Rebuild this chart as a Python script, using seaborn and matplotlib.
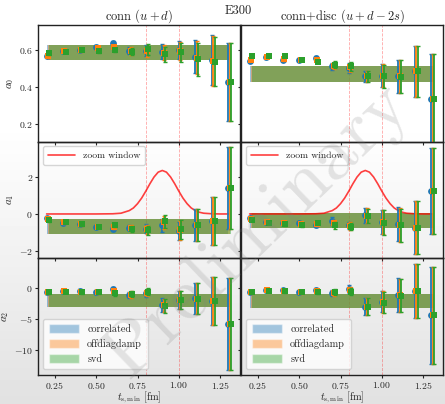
import numpy as np
import pandas as pd
import matplotlib
matplotlib.use("Agg")
import matplotlib.pyplot as plt
from matplotlib.patches import Patch
import seaborn as sns

sns.set_style("ticks")
plt.rcParams["font.family"] = ["cmr10", "DejaVu Serif"]
plt.rcParams["mathtext.fontset"] = "cm"
plt.rcParams["axes.formatter.use_mathtext"] = True
plt.rcParams["axes.unicode_minus"] = True

# ---------------- data ----------------
tmin = [0.2, 0.3, 0.4, 0.5, 0.6, 0.7, 0.8, 0.9, 1.0, 1.1, 1.2, 1.3]
methods = ["correlated", "offdiagdamp", "svd"]

a0_conn_corr = [0.568, 0.596, 0.600, 0.618, 0.636, 0.596, 0.596, 0.591, 0.600, 0.564, 0.546, 0.425]
a0_conn_off = [0.565, 0.593, 0.598, 0.609, 0.618, 0.594, 0.594, 0.585, 0.594, 0.557, 0.541, 0.425]
a0_conn_svd = [0.582, 0.591, 0.600, 0.596, 0.600, 0.591, 0.604, 0.577, 0.587, 0.550, 0.537, 0.425]
a0_conn_err = [0.008, 0.008, 0.008, 0.010, 0.010, 0.020, 0.030, 0.040, 0.050, 0.090, 0.135, 0.210]

a0_disc_corr = [0.541, 0.561, 0.546, 0.546, 0.555, 0.511, 0.502, 0.457, 0.461, 0.457, 0.484, 0.336]
a0_disc_off = [0.548, 0.563, 0.550, 0.546, 0.548, 0.515, 0.505, 0.457, 0.460, 0.456, 0.484, 0.336]
a0_disc_svd = [0.568, 0.568, 0.568, 0.546, 0.537, 0.520, 0.511, 0.457, 0.457, 0.454, 0.484, 0.336]
a0_disc_err = [0.008, 0.008, 0.008, 0.008, 0.010, 0.020, 0.025, 0.030, 0.063, 0.090, 0.140, 0.240]

a1_conn_corr = [-0.23, -0.46, -0.55, -0.68, -0.79, -0.73, -0.79, -0.61, -0.91, -0.61, -0.38, 1.41]
a1_conn_off = [-0.28, -0.45, -0.55, -0.68, -0.68, -0.76, -0.83, -0.45, -0.87, -0.61, -0.38, 1.41]
a1_conn_svd = [-0.34, -0.43, -0.55, -0.68, -0.61, -0.79, -0.88, -0.38, -0.82, -0.61, -0.38, 1.41]
a1_conn_err = [0.07, 0.07, 0.07, 0.08, 0.10, 0.15, 0.25, 0.35, 0.50, 0.85, 1.30, 2.20]

a1_disc_corr = [-0.20, -0.43, -0.46, -0.46, -0.61, -0.38, -0.61, -0.07, -0.43, -0.55, -0.73, 1.23]
a1_disc_off = [-0.26, -0.44, -0.50, -0.53, -0.54, -0.50, -0.64, -0.09, -0.44, -0.58, -0.73, 1.23]
a1_disc_svd = [-0.32, -0.46, -0.55, -0.61, -0.46, -0.61, -0.68, -0.11, -0.46, -0.61, -0.73, 1.23]
a1_disc_err = [0.07, 0.07, 0.07, 0.08, 0.10, 0.20, 0.20, 0.40, 0.65, 0.90, 1.43, 2.30]

a2_conn_corr = [-0.74, -0.48, -0.53, -0.74, -0.21, -1.17, -0.90, -2.77, -1.97, -1.70, -2.13, -5.85]
a2_conn_off = [-0.74, -0.56, -0.63, -0.74, -0.55, -1.10, -0.80, -2.85, -1.97, -1.75, -2.13, -5.85]
a2_conn_svd = [-0.74, -0.64, -0.74, -0.74, -0.90, -1.06, -0.64, -2.93, -1.97, -1.81, -2.13, -5.85]
a2_conn_err = [0.25, 0.25, 0.25, 0.25, 0.35, 0.50, 0.60, 1.10, 1.50, 2.50, 3.90, 7.40]

a2_disc_corr = [-0.74, -0.37, -0.37, -0.74, -0.37, -0.90, -0.21, -3.03, -2.23, -1.17, -0.53, -4.47]
a2_disc_off = [-0.70, -0.42, -0.45, -0.70, -0.50, -0.82, -0.42, -3.03, -2.30, -1.22, -0.53, -4.47]
a2_disc_svd = [-0.64, -0.48, -0.53, -0.64, -0.64, -0.74, -0.64, -3.03, -2.39, -1.28, -0.53, -4.47]
a2_disc_err = [0.25, 0.25, 0.25, 0.25, 0.35, 0.50, 0.60, 1.30, 1.70, 2.70, 4.40, 7.90]

# fit bands (lower, upper)
band_a0_conn = (0.546, 0.627)
band_a0_disc = (0.425, 0.514)
band_a1_conn = (-1.05, -0.29)
band_a1_disc = (-0.73, 0.07)
band_a2_conn = (-3.03, -1.06)
band_a2_disc = (-3.19, -1.06)

# zoom window curve
zoom_x = [0.2, 0.4, 0.5, 0.6, 0.65, 0.7, 0.725, 0.75, 0.775, 0.8, 0.825, 0.85, 0.875, 0.9,
          0.925, 0.95, 0.975, 1.0, 1.025, 1.05, 1.075, 1.1, 1.125, 1.15, 1.2, 1.25, 1.3]
zoom_y = [0.0, 0.0, 0.0, 0.01, 0.04, 0.18, 0.32, 0.55, 0.85, 1.22, 1.62, 1.98, 2.24, 2.33,
          2.24, 1.98, 1.62, 1.22, 0.85, 0.55, 0.32, 0.18, 0.09, 0.04, 0.01, 0.0, 0.0]

titles = [r"conn $(u+d)$", r"conn+disc $(u+d-2s)$"]
ylabels = [r"$a_0$", r"$a_1$", r"$a_2$"]
vlines = [0.8, 1.0]

panels = {
    (0, 0): ([a0_conn_corr, a0_conn_off, a0_conn_svd], a0_conn_err, band_a0_conn),
    (0, 1): ([a0_disc_corr, a0_disc_off, a0_disc_svd], a0_disc_err, band_a0_disc),
    (1, 0): ([a1_conn_corr, a1_conn_off, a1_conn_svd], a1_conn_err, band_a1_conn),
    (1, 1): ([a1_disc_corr, a1_disc_off, a1_disc_svd], a1_disc_err, band_a1_disc),
    (2, 0): ([a2_conn_corr, a2_conn_off, a2_conn_svd], a2_conn_err, band_a2_conn),
    (2, 1): ([a2_disc_corr, a2_disc_off, a2_disc_svd], a2_disc_err, band_a2_disc),
}

colors = ["tab:blue", "tab:orange", "tab:green"]
markers = ["o", "s", "s"]
offsets = [0.0, 0.008, 0.016]

# ---------------- figure ----------------
fig = plt.figure(figsize=(4.45, 4.04), dpi=100)
bg = fig.add_axes([0, 0, 1, 1], zorder=-10)
grad = np.concatenate([np.ones(30), np.linspace(1.0, 0.885, 70)])[:, None]
bg.imshow(grad, aspect="auto", cmap="gray", vmin=0, vmax=1, extent=[0, 1, 0, 1],
          origin="upper")
bg.axis("off")

axes = fig.subplots(3, 2, sharex=True, sharey="row")
fig.subplots_adjust(left=0.0854, right=0.9955, top=0.938, bottom=0.073,
                    wspace=0.005, hspace=0.0)

for (r, c), (series, err, band) in panels.items():
    ax = axes[r, c]
    ax.set_facecolor("none")
    for i, (vals, col, mk, off) in enumerate(zip(series, colors, markers, offsets)):
        xs = np.array(tmin) + off
        ax.fill_between([xs[0], xs[-1]], band[0], band[1], color=col, alpha=0.45,
                        lw=0, zorder=1)
        ax.errorbar(xs, vals, yerr=err, fmt="none", ecolor=col, elinewidth=1.3,
                    capsize=1.6, capthick=1.0, zorder=3 + 2 * i)
        sns.scatterplot(x=xs, y=vals, color=col, marker=mk, s=24, linewidth=0,
                        ax=ax, zorder=4 + 2 * i, legend=False)
    for v in vlines:
        ax.axvline(v, color="red", ls="--", lw=0.6, alpha=0.35, zorder=0)
    if r == 1:
        sns.lineplot(x=zoom_x, y=zoom_y, color="red", alpha=0.75, lw=1.2,
                     label="zoom window", ax=ax, zorder=2)
        ax.legend(loc="upper left", fontsize=7, handlelength=2.8,
                  borderpad=0.5, framealpha=0.8)
    if r == 2:
        handles = [Patch(facecolor=col, alpha=0.4, label=m) for col, m in zip(colors, methods)]
        ax.legend(handles=handles, loc="lower left", fontsize=7.3, handlelength=3.0,
                  handleheight=0.9, borderpad=0.55, labelspacing=0.5, framealpha=0.8)
        ax.set_xlabel(r"$t_{\rm s,min}$ [fm]", fontsize=7.5, labelpad=-0.5)
    if c == 0:
        ax.set_ylabel(ylabels[r], fontsize=8, labelpad=2)
    else:
        ax.set_ylabel("")
    if r == 0:
        ax.set_title(titles[c], fontsize=9, pad=4)
    ax.tick_params(labelsize=7, length=2.5, width=0.8, pad=1.2)
    for s in ax.spines.values():
        s.set_linewidth(1.0)
        s.set_color("#222222")

axes[0, 0].set_xlim(0.148, 1.37)
axes[0, 0].set_xticks([0.25, 0.5, 0.75, 1.0, 1.25])
axes[0, 0].set_ylim(0.103, 0.735)
axes[0, 0].set_yticks([0.2, 0.4, 0.6])
axes[1, 0].set_ylim(-2.36, 3.88)
axes[1, 0].set_yticks([-2, 0, 2])
axes[2, 0].set_ylim(-14.0, 4.8)
axes[2, 0].set_yticks([-10, -5, 0])

fig.text(0.535, 0.972, "E300", ha="center", va="center", fontsize=9)
fig.text(0.58, 0.43, "Preliminary", rotation=44, ha="center", va="center",
         fontsize=55, color="grey", alpha=0.2, zorder=20)

fig.savefig("out.png", dpi=100)
